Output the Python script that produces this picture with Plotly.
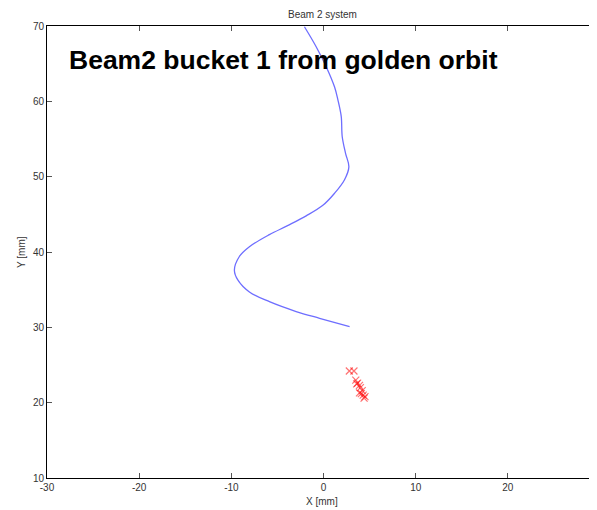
import plotly.graph_objects as go

orbit_x = [-2.07, -0.8, 0.29, 1.2, 1.56, 1.92, 2.03, 2.39, 2.75, 2.28, 1.2, -0.07, -1.88, -3.9, -5.87, -8.04, -9.13, -9.67, -9.3, -8.04, -5.87, -2.97, -0.43, 2.83]
orbit_y = [69.9, 67.25, 64.6, 61.9, 60.2, 58.0, 55.3, 53.1, 51.3, 49.6, 47.8, 46.2, 44.8, 43.5, 42.3, 40.7, 39.4, 37.6, 36.3, 34.7, 33.4, 32.1, 31.2, 30.1]

bunch_x = [2.8, 3.3, 3.5, 3.7, 3.9, 3.6, 4.0, 4.2, 3.9, 4.3, 4.5, 4.1, 4.4]
bunch_y = [24.2, 24.2, 23.0, 22.6, 22.3, 22.5, 22.0, 21.6, 21.3, 21.0, 20.8, 21.2, 20.6]

x_ticks = [-30, -20, -10, 0, 10, 20, 30]
y_ticks = [10, 20, 30, 40, 50, 60, 70]

FONT = "Liberation Sans, Arial"

fig = go.Figure()
fig.add_trace(go.Scatter(x=orbit_x, y=orbit_y, mode="lines",
                         line=dict(color="rgb(110,110,255)", width=1.3, shape="spline", smoothing=1.0),
                         showlegend=False, hoverinfo="skip"))
fig.add_trace(go.Scatter(x=bunch_x, y=bunch_y, mode="markers",
                         marker=dict(symbol="x-thin", size=7, line=dict(color="rgba(255,0,0,0.55)", width=1.2)),
                         showlegend=False, hoverinfo="skip"))

axis_common = dict(showgrid=False, zeroline=False, showline=True, linecolor="black", linewidth=1,
                   ticks="inside", ticklen=5, tickcolor="#555", mirror="ticks", automargin=False,
                   tickfont=dict(family=FONT, size=10, color="#333"))
fig.update_xaxes(range=[-30, 29.67], tickvals=x_ticks, ticktext=[str(v) for v in x_ticks], **axis_common)
fig.update_yaxes(range=[10, 70], tickvals=y_ticks, ticktext=[str(v) for v in y_ticks], **axis_common)

fig.update_layout(
    width=589, height=502,
    margin=dict(l=39, r=0, t=18, b=32, autoexpand=False),
    paper_bgcolor="white", plot_bgcolor="white",
    annotations=[
        dict(text="<b>Beam2 bucket 1 from golden orbit</b>", xref="paper", yref="paper",
             x=0.036, y=0.925, xanchor="left", yanchor="middle", showarrow=False,
             font=dict(family=FONT, size=26.5, color="black")),
        dict(text="Beam 2 system", xref="paper", yref="paper", x=0.5, y=1, yshift=12,
             xanchor="center", yanchor="middle", showarrow=False,
             font=dict(family=FONT, size=10, color="#333")),
        dict(text="X [mm]", xref="paper", yref="paper", x=0.5, y=0, yshift=-23,
             xanchor="center", yanchor="middle", showarrow=False,
             font=dict(family=FONT, size=10, color="#333")),
        dict(text="Y [mm]", xref="paper", yref="paper", x=0, y=0.5, xshift=-26, textangle=-90,
             xanchor="center", yanchor="middle", showarrow=False,
             font=dict(family=FONT, size=10, color="#333")),
    ],
)

fig.write_html("out.html")
